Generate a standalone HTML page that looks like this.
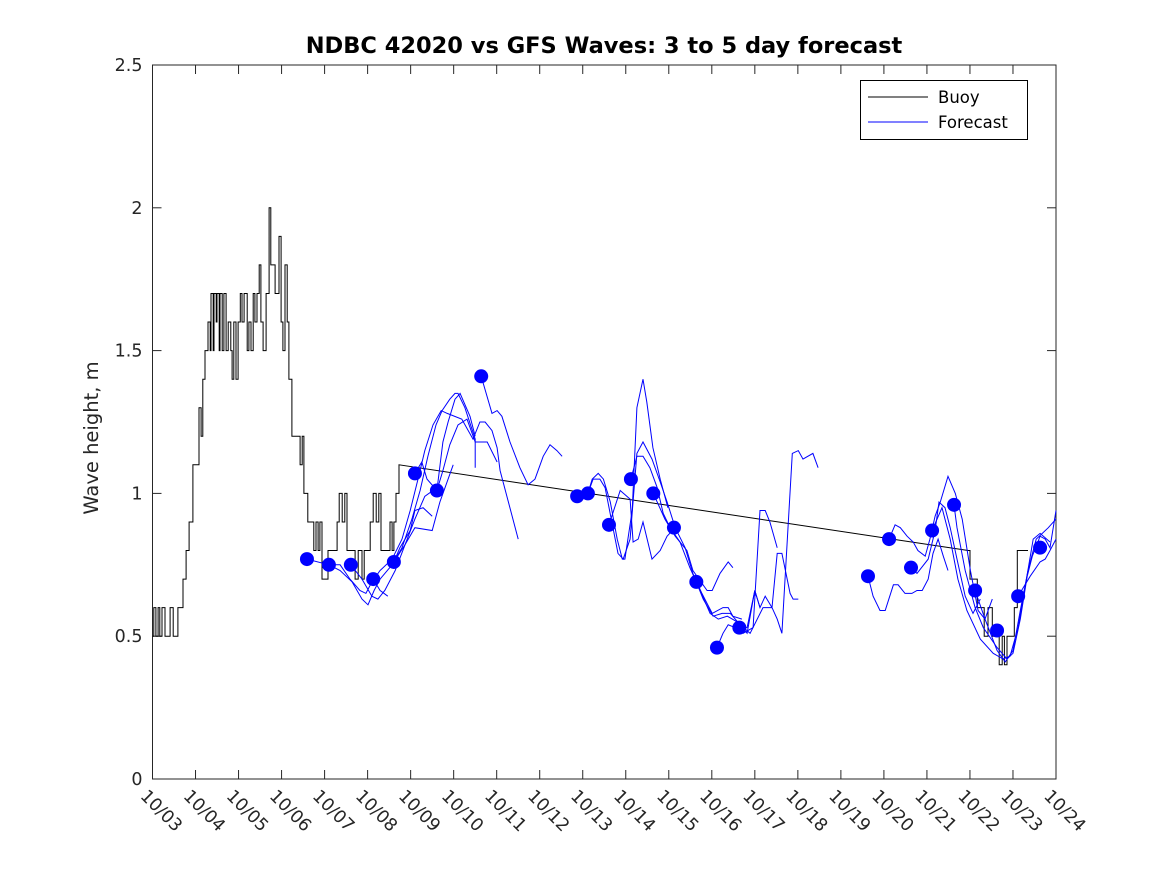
<!DOCTYPE html>
<html><head><meta charset="utf-8"><style>
html,body{margin:0;padding:0;background:#fff;}
svg{display:block;font-family:"DejaVu Sans","Liberation Sans",sans-serif;}
</style></head><body>
<svg id="chart" width="1167" height="875" viewBox="0 0 1167 875" xmlns="http://www.w3.org/2000/svg">
<rect width="1167" height="875" fill="#fff"/>
<text x="604" y="53" text-anchor="middle" font-size="22.5" font-weight="bold" fill="#000">NDBC 42020 vs GFS Waves: 3 to 5 day forecast</text>
<text transform="translate(98,438) rotate(-90)" text-anchor="middle" font-size="19.5" fill="#262626">Wave height, m</text>
<g id="plot"></g>
<g>
<rect x="860.5" y="80.5" width="167" height="59" fill="#fff" stroke="#000" stroke-width="1"/>
<line x1="868" y1="97" x2="928" y2="97" stroke="#000"/>
<text x="938" y="103" font-size="16.5" fill="#000">Buoy</text>
<line x1="868" y1="122" x2="928" y2="122" stroke="#00f"/>
<text x="938" y="128" font-size="16.5" fill="#000">Forecast</text>
</g>
</svg>
<script>
const xTickLabels = ["10/03","10/04","10/05","10/06","10/07","10/08","10/09","10/10","10/11","10/12","10/13","10/14","10/15","10/16","10/17","10/18","10/19","10/20","10/21","10/22","10/23","10/24"];
const yTicks = [0,0.5,1,1.5,2,2.5];
const yTickLabels = ["0","0.5","1","1.5","2","2.5"];
const buoyDays = [0,.03,.08,.13,.17,.22,.29,.41,.48,.59,.66,.71,.78,.85,.94,1.03,1.08,1.13,1.17,1.22,1.29,1.34,1.36,1.41,1.43,1.48,1.50,1.55,1.57,1.62,1.66,1.71,1.76,1.82,1.85,1.89,1.94,1.99,2.04,2.08,2.13,2.20,2.24,2.29,2.34,2.38,2.43,2.48,2.52,2.57,2.64,2.71,2.75,2.80,2.85,2.89,2.94,2.99,3.03,3.08,3.13,3.17,3.24,3.43,3.48,3.52,3.59,3.61,3.75,3.80,3.85,3.89,3.94,4.03,4.08,4.24,4.29,4.34,4.41,4.47,4.52,4.59,4.71,4.78,4.87,4.92,5.06,5.13,5.20,5.26,5.31,5.47,5.52,5.57,5.61,5.66,5.73,18.96,19.00,19.12,19.17,19.24,19.33,19.42,19.52,19.63,19.68,19.75,19.80,19.86,19.98,20.03,20.10,20.17,20.28,20.35];
const buoyValues = [.5,.6,.5,.6,.5,.6,.5,.6,.5,.6,.6,.7,.8,.9,1.1,1.1,1.3,1.2,1.4,1.5,1.6,1.5,1.7,1.5,1.7,1.6,1.7,1.5,1.7,1.5,1.7,1.5,1.6,1.5,1.4,1.6,1.4,1.6,1.7,1.6,1.7,1.5,1.6,1.5,1.7,1.6,1.7,1.8,1.6,1.5,1.7,2.0,1.8,1.8,1.7,1.7,1.9,1.6,1.5,1.8,1.6,1.4,1.2,1.1,1.2,1.0,1.0,.9,.8,.9,.8,.9,.7,.7,.8,.8,.9,1.0,.9,1.0,.8,.8,.7,.8,.7,.8,.9,1.0,.9,1.0,.8,.8,.9,.8,.9,1.0,1.1,.8,.7,.7,.6,.6,.5,.6,.5,.5,.4,.5,.4,.5,.5,.6,.8,.8,.8,.8];
const cycleDays = [3.59,4.10,4.61,5.13,5.61,6.10,6.61,7.64,9.87,10.12,10.61,11.12,11.64,12.12,12.64,13.12,13.64,16.63,17.12,17.63,18.12,18.63,19.12,19.63,20.12,20.63];
const cycleValues = [.77,.75,.75,.70,.76,1.07,1.01,1.41,.99,1.00,.89,1.05,1.00,.88,.69,.46,.53,.71,.84,.74,.87,.96,.66,.52,.64,.81];
const forecastDays = [
[3.59,4.10,4.36,4.64,4.87,5.01,5.15,5.29,5.57,5.80,6.03,6.22,6.40,6.59,6.73,6.91,7.03,7.10,7.26,7.50,7.50],
[4.10,4.36,4.59,4.82,4.96,5.10,5.29,5.57,5.80,5.99,6.17,6.33,6.52,6.71,6.85,7.19,7.45,7.61,7.73,7.89,8.01,8.08,8.50],
[4.61,4.87,5.10,5.24,5.40,5.64,5.87,6.10,6.33,6.52,6.61,6.75,6.91,7.10,7.31,7.50,7.78,8.01],
[5.13,5.29,5.47],
[5.61,5.75,5.99,6.10,6.29,6.50],
[5.61,5.87,6.10,6.50,6.68,6.99],
[6.10,6.26,6.38,6.61,6.75,6.87,7.03,7.15,7.38,7.50],
[7.64,7.89,8.01,8.12,8.31,8.54,8.73,8.89,9.08,9.24,9.40,9.52],
[9.87,10.12,10.22,10.36,10.48,10.64,10.80,10.92,10.98,11.15,11.26,11.40,11.49,11.63,11.80,11.98],
[10.12,10.24,10.40,10.52,10.82,10.94,11.10,11.26,11.40,11.61,11.80,11.96,12.15,12.38,12.56,12.77,13.01,13.26,13.38,13.49,13.70],
[11.12,11.26,11.40,11.56,11.73,11.87,12.03,12.26,12.49,12.73,12.96,13.15,13.36,13.59,13.82,14.00,14.12],
[10.61,10.87,11.10,11.17,11.29,11.40,11.61,11.80,11.96,12.15],
[11.64,11.91,12.15,12.42,12.56,12.89,13.01,13.19,13.38,13.49],
[12.64,12.80,13.03,13.24,13.43,13.66,13.89,14.19,14.40,14.52,14.63,14.87,15.01,15.12,15.35,15.47],
[13.12,13.26,13.38,13.54,13.73,13.96,14.12,14.24,14.35,14.52],
[13.64,13.82,14.00,14.12,14.24,14.40,14.52,14.63,14.82,14.89,15.01],
[16.63,16.75,16.91,17.03,17.22,17.33,17.49,17.65,17.77,17.89,18.03,18.14,18.26,18.38,18.49],
[17.12,17.26,17.38,17.54,17.68,17.79,17.96,18.07,18.19,18.31,18.49,18.66,18.82,19.01,19.19,19.35,19.52],
[17.63,17.77,18.03,18.19,18.28,18.42,18.54,18.70,18.89,19.07,19.24],
[18.12,18.35,18.54,18.72,18.93,19.24,19.54,19.77,19.93,20.12,20.28,20.47,20.63,20.86],
[18.63,18.70,18.89,19.12,19.31,19.63,19.86,20.00,20.17,20.33,20.45,20.63,20.75,20.86,21.0],
[20.12,20.40,20.63,20.75,20.86,21.0],
[19.12,19.35,19.63,19.82,20.00,20.17,20.35,20.54,20.82,21.0]
];
const forecastValues = [
[.77,.75,.73,.69,.63,.61,.66,.70,.75,.81,.91,1.01,1.13,1.24,1.29,1.33,1.35,1.35,1.30,1.19,1.09],
[.75,.75,.70,.66,.65,.69,.73,.77,.84,.94,1.05,1.15,1.24,1.29,1.28,1.26,1.19,1.25,1.25,1.22,1.16,1.08,.84],
[.75,.70,.64,.63,.66,.73,.82,.91,.99,1.01,1.01,1.08,1.17,1.24,1.26,1.18,1.18,1.11],
[.70,.66,.64],
[.76,.81,.87,.94,.95,.92],
[.76,.82,.88,.87,.97,1.10],
[1.07,1.11,1.05,1.01,1.18,1.25,1.33,1.35,1.27,1.20],
[1.41,1.28,1.29,1.27,1.18,1.09,1.03,1.05,1.13,1.17,1.15,1.13],
[.99,1.00,1.05,1.07,1.05,.97,.84,.77,.77,.94,1.30,1.40,1.32,1.16,1.05,.95],
[1.00,1.05,1.05,1.02,.79,.77,.84,1.14,1.18,1.12,1.04,.97,.88,.81,.72,.65,.58,.60,.60,.57,.56],
[1.05,1.13,1.13,1.09,1.02,.93,.88,.83,.74,.66,.58,.56,.57,.55,.51,.66,.60],
[.89,1.01,.98,.83,.84,.90,.77,.80,.85,.88],
[1.00,.91,.85,.80,.73,.66,.66,.72,.76,.74],
[.69,.63,.57,.58,.58,.54,.51,.60,.60,.56,.51,1.14,1.15,1.12,1.14,1.09],
[.46,.51,.54,.53,.51,.53,.94,.94,.90,.81],
[.53,.53,.66,.60,.64,.60,.79,.79,.65,.63,.63],
[.71,.64,.59,.59,.68,.68,.65,.65,.66,.66,.70,.79,.84,.78,.73],
[.84,.89,.88,.85,.83,.80,.78,.84,.92,.97,1.06,1.00,.91,.73,.59,.56,.63],
[.74,.72,.77,.87,.97,.95,.88,.77,.64,.58,.63],
[.87,.95,.84,.70,.59,.49,.44,.42,.43,.53,.67,.84,.86,.83],
[.96,.88,.73,.60,.53,.46,.42,.44,.56,.71,.78,.85,.84,.81,.94],
[.64,.71,.76,.77,.80,.84],
[.66,.56,.45,.41,.45,.59,.73,.84,.88,.91]
];

const NS = "http://www.w3.org/2000/svg";
const X0 = 152.5, X1 = 1056, Y0 = 779, Y1 = 65, DMAX = 21, VMAX = 2.5;
const xs = d => X0 + (X1 - X0) * d / DMAX;
const ys = v => Y0 - (Y0 - Y1) * v / VMAX;
const plot = document.getElementById('plot');
function mk(tag, attrs){ const e = document.createElementNS(NS, tag); for (const k in attrs) e.setAttribute(k, attrs[k]); return e; }

const box = mk('rect', {x: X0, y: Y1, width: X1 - X0, height: Y0 - Y1, fill: 'none', stroke: '#262626', 'stroke-width': 1});


plot.appendChild(box);

yTicks.forEach((v, i) => {
  const y = ys(v);
  const t1 = mk('line', {x1: X0, y1: y, x2: X0 + 9, y2: y, stroke: '#262626'});
  
  
  plot.appendChild(t1);
  const t2 = mk('line', {x1: X1, y1: y, x2: X1 - 9, y2: y, stroke: '#262626'});
  
  
  plot.appendChild(t2);
  const lb = mk('text', {x: X0 - 10, y: y + 6, 'text-anchor': 'end', 'font-size': 17.5, fill: '#262626'});
  lb.textContent = yTickLabels[i];
  
  
  plot.appendChild(lb);
});

xTickLabels.forEach((s, i) => {
  const x = xs(i);
  const t1 = mk('line', {x1: x, y1: Y0, x2: x, y2: Y0 - 9, stroke: '#262626'});
  
  
  plot.appendChild(t1);
  const t2 = mk('line', {x1: x, y1: Y1, x2: x, y2: Y1 + 9, stroke: '#262626'});
  
  
  plot.appendChild(t2);
  const lb = mk('text', {x: 0, y: 0, 'font-size': 17.5, fill: '#262626', transform: 'translate(' + (x - 13) + ',797) rotate(45)'});
  lb.textContent = s;
  
  
  plot.appendChild(lb);
});

const bpts = [];
buoyDays.forEach((d, i) => {
  if (i > 0 && d - buoyDays[i - 1] < 1) bpts.push(xs(d).toFixed(1) + ',' + ys(buoyValues[i - 1]).toFixed(1));
  bpts.push(xs(d).toFixed(1) + ',' + ys(buoyValues[i]).toFixed(1));
});
const buoy = mk('polyline', {points: bpts.join(' '), fill: 'none', stroke: '#000', 'stroke-width': 1});


plot.appendChild(buoy);

forecastDays.forEach((arr, k) => {
  const pts = arr.map((d, i) => xs(d).toFixed(1) + ',' + ys(forecastValues[k][i]).toFixed(1)).join(' ');
  const pl = mk('polyline', {points: pts, fill: 'none', stroke: '#00f', 'stroke-width': 1});
  
  
  plot.appendChild(pl);
});

cycleDays.forEach((d, i) => {
  const c = mk('circle', {cx: xs(d), cy: ys(cycleValues[i]), r: 7, fill: '#00f'});
  
  
  plot.appendChild(c);
});
</script>
</body></html>
